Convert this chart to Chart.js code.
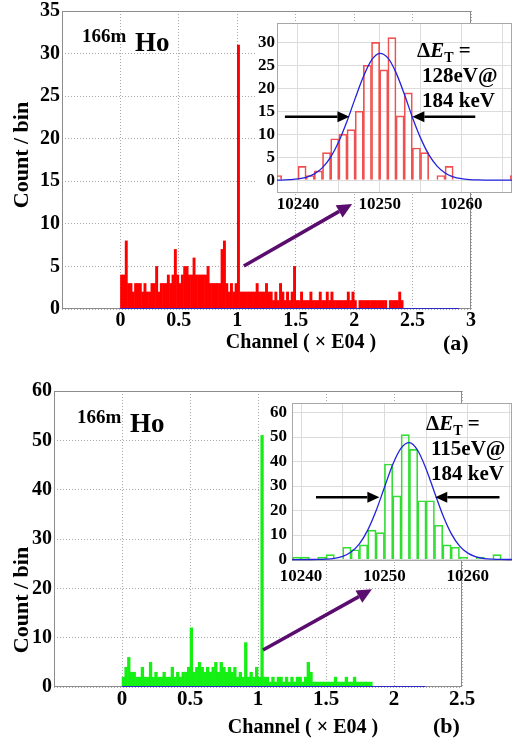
<!DOCTYPE html>
<html>
<head>
<meta charset="utf-8">
<title>166m Ho</title>
<script src="https://cdn.jsdelivr.net/npm/chart.js@4.4.1/dist/chart.umd.min.js"></script>
<style>
  html, body { margin: 0; padding: 0; background: #fff; overflow: hidden; }
  #lienzo { position: relative; width: 512px; height: 741px; }
  canvas { position: absolute; }
</style>
</head>
<body>
<div id="lienzo">
  <canvas id="principalA" width="512" height="370" style="left:0px;top:0px;z-index:1"></canvas>
  <canvas id="insetA" width="272" height="205" style="left:240px;top:15px;z-index:2"></canvas>
  <canvas id="principalB" width="512" height="366" style="left:0px;top:375px;z-index:1"></canvas>
  <canvas id="insetB" width="262" height="200" style="left:250px;top:395px;z-index:2"></canvas>
</div>
<script>
// ---------- Datos (a) ----------
const anchoBin = 0.02; // ancho de bin del espectro, en unidades de E04 canales
const cuentasA = [
  4, 4, 8, 3, 3, 2, 3, 3, 3, 2,
  3, 2, 2, 3, 3, 5, 2, 3, 3, 3,
  4, 3, 4, 7, 4, 3, 4, 5, 5, 4,
  4, 6, 4, 4, 4, 4, 4, 5, 3, 3,
  3, 3, 3, 7, 8, 3, 2, 3, 2, 3,
  31, 2, 2, 2, 2, 2, 2, 2, 3, 2,
  2, 2, 3, 2, 2, 1, 2, 1, 3, 2,
  1, 2, 1, 2, 5, 1, 1, 2, 1, 1,
  1, 2, 1, 1, 1, 2, 1, 1, 2, 1,
  2, 1, 1, 1, 1, 1, 1, 2, 1, 2,
  1, 0, 1, 1, 1, 1, 1, 1, 1, 1,
  1, 1, 1, 1, 0, 1, 1, 1, 1, 2,
  1
];
const ajusteCeroA = [0, 2.9];            // tramo de la curva azul en cero
const rangoXA = [-0.5, 3];
const rangoYA = [0, 35];
const ticksXA = [-0.5, 0, 0.5, 1, 1.5, 2, 2.5, 3];
const ticksYA = [0, 5, 10, 15, 20, 25, 30, 35];
const flechaA = [[1.056, 5.05], [1.983, 12.34]];

// inset (a): cuentas por canal desde canalInicioA
const canalInicioA = 10237;
const cuentasInsetA = [1, 0, 0, 3, 1, 2, 6, 9, 10, 11, 15, 25, 30, 24, 31, 14, 19, 7, 6, 0, 1, 3, 0, 0, 0, 0, 0, 0, 0, 1];
const gaussInicioA = 10237;
const gaussA = [0, 0.01, 0.1, 0.26, 0.62, 1.36, 2.73, 5.0, 8.4, 12.8, 17.8, 22.5, 26.1, 27.6, 26.6, 23.4, 18.8, 13.7, 9.2, 5.6, 3.1, 1.57, 0.73, 0.31, 0.12, 0.04, 0.01, 0, 0, 0, 0];
const rangoInsetXA = [10237.43, 10266.2];
const rangoInsetYA = [-2.8, 34.2];
const ticksInsetXA = [10240, 10245, 10250, 10255, 10260, 10265];
const ticksInsetYA = [0, 5, 10, 15, 20, 25, 30];
const fwhmA = { y: 13.8, izq: [10238.4, 10246.3], der: [10261.7, 10254.0] };

// ---------- Datos (b) ----------
const cuentasB = [
  2, 4, 6, 3, 3, 2, 2, 4, 2, 2,
  5, 2, 3, 2, 2, 3, 2, 2, 4, 2,
  3, 2, 3, 3, 4, 12, 3, 4, 5, 4,
  3, 4, 3, 4, 5, 3, 5, 4, 3, 4,
  3, 4, 2, 3, 2, 9, 2, 3, 2, 4,
  2, 51, 2, 2, 1, 2, 1, 2, 2, 1,
  2, 1, 2, 1, 2, 2, 1, 2, 5, 3,
  1, 1, 1, 1, 1, 1, 1, 1, 2, 1,
  1, 1, 2, 1, 1, 2, 1, 1, 1, 1,
  1, 1
];
const ajusteCeroB = [0, 2.23];
const rangoXB = [-0.5, 2.5];
const rangoYB = [0, 60];
const ticksXB = [-0.5, 0, 0.5, 1, 1.5, 2, 2.5];
const ticksYB = [0, 10, 20, 30, 40, 50, 60];
const flechaB = [[1.037, 7.5], [1.838, 19.8]];

const canalInicioB = 10239;
const cuentasInsetB = [1, 1, 0, 1, 2, 0, 5, 4, 6, 12, 11, 39, 26, 51, 45, 24, 24, 14, 6, 5, 1, 0, 1, 0, 2, 0, 0];
const gaussInicioB = 10238;
const gaussB = [0, 0, 0, 0.01, 0.05, 0.17, 0.5, 1.32, 3.1, 6.4, 12.0, 19.9, 29.4, 38.8, 45.5, 47.7, 44.5, 37.0, 27.5, 18.2, 10.7, 5.6, 2.6, 1.1, 0.41, 0.14, 0.04, 0.01, 0];
const rangoInsetXB = [10238.92, 10265.3];
const rangoInsetYB = [-0.6, 63.9];
const ticksInsetXB = [10240, 10245, 10250, 10255, 10260, 10265];
const ticksInsetYB = [0, 10, 20, 30, 40, 50, 60];
const fwhmB = { y: 25.4, izq: [10241.8, 10249.4], der: [10263.8, 10256.1] };

const FUENTE = '"Liberation Serif", "Times New Roman", serif';
const fuente = (px, extra) => `${extra || 'bold'} ${px}px ${FUENTE}`;

// ---------- Utilidades de dibujo ----------
function flecha(ctx, x1, y1, x2, y2, color, grosor, largo, semi) {
  const ang = Math.atan2(y2 - y1, x2 - x1);
  const bx = x2 - largo * Math.cos(ang);
  const by = y2 - largo * Math.sin(ang);
  ctx.save();
  ctx.strokeStyle = color;
  ctx.fillStyle = color;
  ctx.lineWidth = grosor;
  ctx.beginPath();
  ctx.moveTo(x1, y1);
  ctx.lineTo(bx, by);
  ctx.stroke();
  ctx.beginPath();
  ctx.moveTo(x2, y2);
  ctx.lineTo(bx + semi * Math.sin(ang), by - semi * Math.cos(ang));
  ctx.lineTo(bx - semi * Math.sin(ang), by + semi * Math.cos(ang));
  ctx.closePath();
  ctx.fill();
  ctx.restore();
}

function texto(ctx, s, x, y, f, alinear) {
  ctx.font = f;
  ctx.textAlign = alinear || 'left';
  ctx.textBaseline = 'alphabetic';
  ctx.fillStyle = '#000';
  ctx.fillText(s, x, y);
}

// "ΔE_T =" con E cursiva y T como subíndice
function deltaE(ctx, x, y) {
  ctx.save();
  ctx.fillStyle = '#000';
  ctx.textAlign = 'left';
  ctx.font = fuente(21);
  ctx.fillText('Δ', x, y);
  x += ctx.measureText('Δ').width;
  ctx.font = fuente(21, 'italic bold');
  ctx.fillText('E', x, y);
  x += ctx.measureText('E').width;
  ctx.font = fuente(14);
  ctx.fillText('T', x, y + 5);
  x += ctx.measureText('T').width;
  ctx.font = fuente(21);
  ctx.fillText(' =', x, y);
  ctx.restore();
}

// Marco gris del área de datos (y fondo blanco para los insets)
const marco = {
  id: 'marco',
  beforeDraw(chart, args, opts) {
    if (!opts.fondo) return;
    const a = chart.chartArea;
    const ctx = chart.ctx;
    ctx.save();
    ctx.fillStyle = '#fff';
    ctx.fillRect(a.left - opts.fondo, a.top, a.right - a.left + opts.fondo, a.bottom - a.top);
    ctx.restore();
  },
  beforeDatasetsDraw(chart, args, opts) {
    const a = chart.chartArea;
    const ctx = chart.ctx;
    ctx.save();
    ctx.strokeStyle = opts.color || '#909090';
    ctx.lineWidth = 1;
    ctx.strokeRect(a.left + 0.5, a.top + 0.5, a.right - a.left - 1, a.bottom - a.top - 1);
    ctx.restore();
  }
};

function escalas(caja, area, r) {
  return {
    x: {
      type: 'linear', min: r.rangoX[0], max: r.rangoX[1], offset: false,
      afterBuildTicks: s => { s.ticks = r.ticksX.map(v => ({ value: v })); },
      afterFit: s => { s.height = caja.top + caja.height - area.bottom; s.paddingLeft = 0; s.paddingRight = 0; },
      grid: { color: r.rejilla, drawTicks: false, offset: false },
      border: { display: false, dash: r.trazo },
      ticks: {
        autoSkip: false, maxRotation: 0, padding: r.padX, color: '#000',
        font: { family: FUENTE, size: r.tamX, weight: 'bold' },
        callback: r.etiquetaX
      }
    },
    y: {
      type: 'linear', min: r.rangoY[0], max: r.rangoY[1],
      afterBuildTicks: s => { s.ticks = r.ticksY.map(v => ({ value: v })); },
      afterFit: s => { s.width = area.left - caja.left; s.paddingTop = 0; s.paddingBottom = 0; },
      grid: { color: r.rejilla, drawTicks: false },
      border: { display: false, dash: r.trazo },
      ticks: {
        autoSkip: false, padding: r.padY, color: '#000',
        font: { family: FUENTE, size: r.tamY, weight: 'bold' },
        callback: v => String(v)
      }
    }
  };
}

function opcionesBase(caja, area) {
  return {
    responsive: false,
    animation: false,
    devicePixelRatio: 1,
    events: [],
    layout: {
      autoPadding: false,
      padding: { left: 0, top: area.top - caja.top, right: caja.left + caja.width - area.right, bottom: 0 }
    }
  };
}

// Espectro completo
function graficoPrincipal(id, caja, area, d) {
  const base = opcionesBase(caja, area);
  return new Chart(document.getElementById(id), {
    type: 'bar',
    data: {
      datasets: [
        {
          type: 'line',
          data: d.ajusteCero.map(x => ({ x: x, y: 0 })),
          borderColor: '#2b2bc4', borderWidth: 1.8, pointRadius: 0, order: 0
        },
        {
          type: 'bar',
          data: d.cuentas.map((c, i) => ({ x: (i + 0.5) * anchoBin, y: c })),
          backgroundColor: d.color, borderWidth: 0, inflateAmount: 0.3,
          barPercentage: 1, categoryPercentage: 1, order: 1
        }
      ]
    },
    options: Object.assign(base, {
      scales: escalas(caja, area, {
        rangoX: d.rangoX, rangoY: d.rangoY, ticksX: d.ticksX, ticksY: d.ticksY,
        rejilla: '#a8a8a8', trazo: [1, 2], padX: 0, padY: 2, tamX: d.tamX, tamY: 20,
        etiquetaX: v => (v < 0 ? '' : String(v))
      }),
      plugins: {
        legend: { display: false },
        tooltip: { enabled: false },
        marco: { color: '#8c8c8c' }
      }
    }),
    plugins: [marco, {
      id: 'anotaciones',
      afterDraw(chart) {
        const ctx = chart.ctx;
        const sx = chart.scales.x, sy = chart.scales.y;
        const ox = caja.left, oy = caja.top;
        flecha(ctx,
          sx.getPixelForValue(d.flecha[0][0]), sy.getPixelForValue(d.flecha[0][1]),
          sx.getPixelForValue(d.flecha[1][0]), sy.getPixelForValue(d.flecha[1][1]),
          '#5a0d6e', 3.5, 15, 7);
        texto(ctx, '166m', d.iso[0] - ox, d.iso[1] - oy, fuente(19));
        texto(ctx, 'Ho', d.iso[0] + 53 - ox, d.iso[1] + 9 - oy, fuente(27));
        texto(ctx, 'Channel ( \u00d7 E04 )', d.tituloX[0] - ox, d.tituloX[1] - oy, fuente(20), 'center');
        texto(ctx, d.panel, d.etiqueta[0] - ox, d.etiqueta[1] - oy, fuente(22));
        ctx.save();
        ctx.translate(d.tituloY[0] - ox, d.tituloY[1] - oy);
        ctx.rotate(-Math.PI / 2);
        ctx.font = fuente(22);
        ctx.textAlign = 'center';
        ctx.textBaseline = 'middle';
        ctx.fillStyle = '#000';
        ctx.fillText('Count / bin', 0, 0);
        ctx.restore();
      }
    }]
  });
}

// Ampliación del pico con su ajuste gaussiano
function graficoInset(id, caja, area, d) {
  const base = opcionesBase(caja, area);
  return new Chart(document.getElementById(id), {
    type: 'bar',
    data: {
      datasets: [
        {
          type: 'line',
          data: d.gauss.map((v, i) => ({ x: d.gaussInicio + i, y: v })),
          borderColor: '#2222dd', borderWidth: 1.3, pointRadius: 0,
          cubicInterpolationMode: 'monotone', order: 0
        },
        {
          type: 'bar',
          data: d.cuentas.map((c, i) => ({ x: d.inicio + i + 0.5, y: c })),
          backgroundColor: 'rgba(255,255,255,0)', borderColor: d.color, borderWidth: 1,
          barPercentage: 1, categoryPercentage: 1, order: 1
        }
      ]
    },
    options: Object.assign(base, {
      scales: escalas(caja, area, {
        rangoX: d.rangoX, rangoY: d.rangoY, ticksX: d.ticksX, ticksY: d.ticksY,
        rejilla: '#dcdcdc', trazo: [], padX: d.padX, padY: d.padY, tamX: 17, tamY: 17,
        etiquetaX: v => (v % 10 === 0 ? String(v) : '')
      }),
      plugins: {
        legend: { display: false },
        tooltip: { enabled: false },
        marco: { color: '#a8a8a8', fondo: d.fondo }
      }
    }),
    plugins: [marco, {
      id: 'anchoPico',
      afterDraw(chart) {
        const ctx = chart.ctx;
        const sx = chart.scales.x, sy = chart.scales.y;
        const y = sy.getPixelForValue(d.fwhm.y);
        const ox = caja.left, oy = caja.top;
        flecha(ctx, sx.getPixelForValue(d.fwhm.izq[0]), y, sx.getPixelForValue(d.fwhm.izq[1]), y, '#000', 2.5, 12, 5.5);
        flecha(ctx, sx.getPixelForValue(d.fwhm.der[0]), y, sx.getPixelForValue(d.fwhm.der[1]), y, '#000', 2.5, 12, 5.5);
        deltaE(ctx, d.texto[0] - ox, d.texto[1] - oy);
        texto(ctx, d.resolucion, d.texto[0] + 5 - ox, d.texto[1] + 25 - oy, fuente(21));
        texto(ctx, '184 keV', d.texto[0] + 5 - ox, d.texto[1] + 50 - oy, fuente(21));
      }
    }]
  });
}

document.addEventListener('DOMContentLoaded', function() {
  // Panel (a)
  graficoPrincipal('principalA',
    { left: 0, top: 0, width: 512, height: 370 },
    { left: 62, top: 11, right: 471, bottom: 309 },
    {
      cuentas: cuentasA, ajusteCero: ajusteCeroA, color: 'rgb(255,0,0)',
      rangoX: rangoXA, rangoY: rangoYA, ticksX: ticksXA, ticksY: ticksYA, tamX: 20,
      flecha: flechaA, iso: [82, 42], tituloX: [301, 348], tituloY: [22, 155],
      panel: '(a)', etiqueta: [443, 350]
    });
  graficoInset('insetA',
    { left: 240, top: 15, width: 272, height: 205 },
    { left: 277, top: 23, right: 512, bottom: 193 },
    {
      cuentas: cuentasInsetA, inicio: canalInicioA, gauss: gaussA, gaussInicio: gaussInicioA,
      color: '#f05050', rangoX: rangoInsetXA, rangoY: rangoInsetYA,
      ticksX: ticksInsetXA, ticksY: ticksInsetYA, padX: 1, padY: 2, fondo: 22,
      fwhm: fwhmA, texto: [417, 57], resolucion: '128eV@'
    });

  // Panel (b)
  graficoPrincipal('principalB',
    { left: 0, top: 375, width: 512, height: 366 },
    { left: 54, top: 391, right: 462, bottom: 687 },
    {
      cuentas: cuentasB, ajusteCero: ajusteCeroB, color: 'rgb(20,240,20)',
      rangoX: rangoXB, rangoY: rangoYB, ticksX: ticksXB, ticksY: ticksYB, tamX: 21,
      flecha: flechaB, iso: [77, 423], tituloX: [303, 733], tituloY: [22, 600],
      panel: '(b)', etiqueta: [433, 733]
    });
  graficoInset('insetB',
    { left: 250, top: 395, width: 262, height: 200 },
    { left: 292, top: 403, right: 512, bottom: 561 },
    {
      cuentas: cuentasInsetB, inicio: canalInicioB, gauss: gaussB, gaussInicio: gaussInicioB,
      color: '#33dd33', rangoX: rangoInsetXB, rangoY: rangoInsetYB,
      ticksX: ticksInsetXB, ticksY: ticksInsetYB, padX: 5, padY: 5, fondo: 28,
      fwhm: fwhmB, texto: [426, 430], resolucion: '115eV@'
    });
});
</script>
</body>
</html>
